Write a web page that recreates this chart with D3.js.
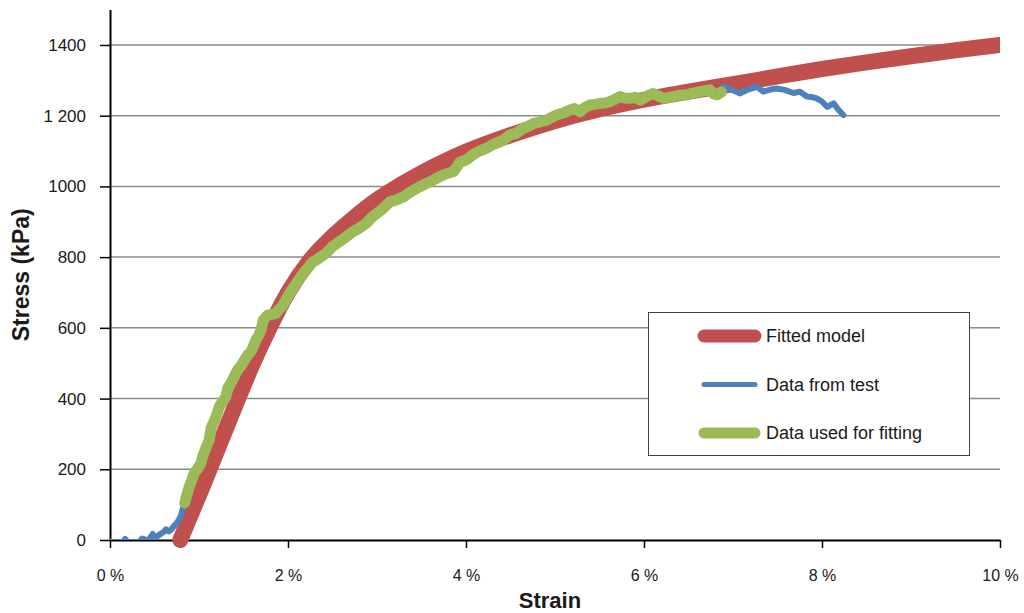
<!DOCTYPE html>
<html>
<head>
<meta charset="utf-8">
<script src="https://cdn.jsdelivr.net/npm/d3@7"></script>
<style>
  html, body { margin: 0; padding: 0; background: #ffffff; }
  svg { display: block; font-family: "Liberation Sans", Arial, sans-serif; }
</style>
</head>
<body>
<svg id="chart" width="1024" height="613"></svg>
<script>
// Axis ticks
const strainTicks = [0, 2, 4, 6, 8, 10];
const stressTicks = [0, 200, 400, 600, 800, 1000, 1200, 1400];
const stressTickLabels = ["0", "200", "400", "600", "800", "1000", "1 200", "1400"];

// Fitted model curve (strain in %, stress in kPa)
const modelStrain = [0.79, 1.04, 1.2, 1.44, 1.6, 1.8, 2.0, 2.25, 2.5, 2.75, 3.0, 3.25, 3.5, 3.75, 4.0, 4.5, 5.0, 5.5, 6.0, 6.5, 7.0, 7.5, 8.0, 8.5, 9.0, 9.5, 10.0];
const modelStress = [0, 151, 251, 400, 496, 604, 700, 792, 858, 913, 962, 1002, 1038, 1070, 1098, 1145, 1185, 1218, 1245, 1268, 1289, 1311, 1332, 1351, 1368, 1385, 1400];

// Measured test data (strain in %, stress in kPa)
const testStrain = [
  0, 0.03, 0.06, 0.1, 0.15, 0.17, 0.2, 0.28, 0.33, 0.36, 0.39, 0.42, 0.45, 0.48, 0.5, 0.53, 0.56, 0.6, 0.63, 0.66,
  0.69, 0.72, 0.75, 0.78, 0.8, 0.82, 0.84, 0.86, 0.891, 0.92, 0.947, 0.98, 1.022, 1.041, 1.08, 1.116, 1.135, 1.16,
  1.191, 1.229, 1.26, 1.303, 1.322, 1.35, 1.378, 1.41, 1.435, 1.47, 1.491, 1.52, 1.547, 1.58, 1.603, 1.64, 1.67,
  1.697, 1.723, 1.772, 1.82, 1.866, 1.9, 1.94, 2.0, 2.05, 2.1, 2.17, 2.22, 2.27, 2.32, 2.38, 2.43, 2.5, 2.58, 2.65,
  2.73, 2.8, 2.88, 2.94, 3.0, 3.07, 3.15, 3.22, 3.3, 3.38, 3.48, 3.57, 3.67, 3.76, 3.86, 3.93, 4.01, 4.08, 4.15,
  4.23, 4.3, 4.42, 4.49, 4.56, 4.64, 4.7, 4.76, 4.83, 4.91, 4.96, 5.02, 5.1, 5.17, 5.22, 5.28, 5.33, 5.39, 5.45,
  5.51, 5.56, 5.62, 5.68, 5.73, 5.78, 5.84, 5.9, 5.96, 6.03, 6.1, 6.16, 6.22, 6.28, 6.33, 6.4, 6.48, 6.55, 6.63,
  6.68, 6.74, 6.78, 6.82, 6.87, 6.89, 6.95, 7.0, 7.08, 7.15, 7.22, 7.27, 7.34, 7.42, 7.49, 7.58, 7.68, 7.75, 7.83,
  7.9, 7.94, 8.0, 8.06, 8.13, 8.18, 8.24
];
const testStress = [
  -4, -6, -8, -6, -7, 3, -6, -8, -5, 4, 2, -6, 6, 17, 6, 10, 16, 22, 30, 24,
  30, 40, 48, 60, 72, 90, 105, 125, 151, 170, 189, 200, 217, 236, 262, 283, 316, 330,
  349, 377, 390, 405, 429, 440, 453, 470, 481, 492, 500, 512, 523, 532, 542, 566, 578,
  594, 622, 636, 638, 641, 652, 662, 690, 710, 728, 754, 768, 785, 792, 803, 811, 830, 844, 857,
  872, 882, 896, 912, 924, 938, 957, 962, 971, 985, 999, 1010, 1023, 1034, 1042, 1068, 1076, 1090, 1100,
  1108, 1118, 1131, 1145, 1150, 1164, 1170, 1178, 1182, 1188, 1195, 1202, 1208, 1216, 1220, 1211, 1222, 1230, 1232,
  1235, 1236, 1240, 1247, 1254, 1250, 1249, 1252, 1244, 1255, 1263, 1256, 1249, 1252, 1254, 1258, 1259, 1264, 1268,
  1270, 1273, 1262, 1259, 1267, 1282, 1276, 1272, 1263, 1272, 1278, 1282, 1268, 1274, 1277, 1273, 1264, 1268, 1254,
  1252, 1249, 1240, 1225, 1235, 1218, 1202
];

// Strain window of the test data that was used for fitting
const fitStrainFrom = 0.84;
const fitStrainTo = 6.87;

const seriesNames = ["Fitted model", "Data from test", "Data used for fitting"];
const seriesColors = ["#C0504D", "#4F81BD", "#9BBB59"];
const seriesWidths = [16, 6, 11];
const legendWidths = [13, 5, 11];

const svg = d3.select("#chart");
const plotLeft = 110, plotRight = 1000, plotTop = 9.6, plotBottom = 540;

const x = d3.scaleLinear().domain([0, 10]).range([plotLeft, plotRight]);
const y = d3.scaleLinear().domain([0, 1500]).range([plotBottom, plotTop]);

// Horizontal gridlines
svg.append("g")
  .selectAll("line")
  .data(stressTicks.filter(d => d > 0))
  .join("line")
  .attr("x1", plotLeft).attr("x2", plotRight)
  .attr("y1", d => y(d)).attr("y2", d => y(d))
  .attr("stroke", "#8a8a8a")
  .attr("stroke-width", 1.5);

// Y axis
const yAxis = svg.append("g")
  .attr("transform", `translate(${plotLeft},0)`)
  .call(d3.axisLeft(y).tickValues(stressTicks)
    .tickFormat((d, i) => stressTickLabels[i])
    .tickSize(10).tickPadding(14).tickSizeOuter(0));
yAxis.select(".domain").attr("stroke", "#000").attr("stroke-width", 2);
yAxis.selectAll(".tick line").attr("stroke", "#000").attr("stroke-width", 1.5);
yAxis.selectAll(".tick text")
  .attr("font-family", "'Liberation Sans', Arial, sans-serif")
  .attr("font-size", 17).attr("fill", "#1a1a1a");

// X axis
const xAxis = svg.append("g")
  .attr("transform", `translate(0,${plotBottom})`)
  .call(d3.axisBottom(x).tickValues(strainTicks)
    .tickFormat(d => d + " %")
    .tickSize(8).tickPadding(22).tickSizeOuter(0));
xAxis.select(".domain").attr("stroke", "#000").attr("stroke-width", 2);
xAxis.selectAll(".tick line").attr("stroke", "#000").attr("stroke-width", 1.5);
xAxis.selectAll(".tick text")
  .attr("font-family", "'Liberation Sans', Arial, sans-serif")
  .attr("font-size", 16).attr("fill", "#1a1a1a");

// Axis titles
svg.append("text")
  .attr("x", 550).attr("y", 608)
  .attr("text-anchor", "middle")
  .attr("font-size", 22).attr("font-weight", "bold").attr("fill", "#1a1a1a")
  .text("Strain");
svg.append("text")
  .attr("transform", `translate(29,${(plotTop + plotBottom) / 2}) rotate(-90)`)
  .attr("text-anchor", "middle")
  .attr("font-size", 23).attr("font-weight", "bold").attr("fill", "#1a1a1a")
  .text("Stress (kPa)");

// Clip regions
const defs = svg.append("defs");
defs.append("clipPath").attr("id", "clip-plot")
  .append("rect").attr("x", plotLeft).attr("y", 0).attr("width", plotRight - plotLeft).attr("height", plotBottom);
defs.append("clipPath").attr("id", "clip-right")
  .append("rect").attr("x", 0).attr("y", 0).attr("width", plotRight).attr("height", 613);

// Fitted model
const modelPts = modelStrain.map((s, i) => [s, modelStress[i]]);
const smooth = d3.line().x(d => x(d[0])).y(d => y(d[1])).curve(d3.curveMonotoneX);
svg.append("path")
  .attr("clip-path", "url(#clip-right)")
  .attr("d", smooth(modelPts))
  .attr("fill", "none")
  .attr("stroke", seriesColors[0])
  .attr("stroke-width", seriesWidths[0])
  .attr("stroke-linecap", "round")
  .attr("stroke-linejoin", "round");

// Test data, and the part used for fitting
const testPts = testStrain.map((s, i) => [s, testStress[i]]);
const fitPts = testPts.filter(d => d[0] >= fitStrainFrom && d[0] <= fitStrainTo);
const lin = d3.line().x(d => x(d[0])).y(d => y(d[1])).curve(d3.curveLinear);

svg.append("path")
  .attr("clip-path", "url(#clip-plot)")
  .attr("d", lin(testPts))
  .attr("fill", "none")
  .attr("stroke", seriesColors[1])
  .attr("stroke-width", seriesWidths[1])
  .attr("stroke-linecap", "round")
  .attr("stroke-linejoin", "round");

svg.append("path")
  .attr("clip-path", "url(#clip-plot)")
  .attr("d", lin(fitPts))
  .attr("fill", "none")
  .attr("stroke", seriesColors[2])
  .attr("stroke-width", seriesWidths[2])
  .attr("stroke-linecap", "round")
  .attr("stroke-linejoin", "round");

// Legend
const legend = svg.append("g");
legend.append("rect")
  .attr("x", 648.5).attr("y", 312.5).attr("width", 321).attr("height", 143)
  .attr("fill", "#ffffff").attr("stroke", "#404040").attr("stroke-width", 1);
const item = legend.selectAll("g.item")
  .data(seriesNames)
  .join("g").attr("class", "item")
  .attr("transform", (d, i) => `translate(0,${336 + i * 48.5})`);
item.append("line")
  .attr("x1", 704).attr("x2", 755)
  .attr("y1", 0).attr("y2", 0)
  .attr("stroke", (d, i) => seriesColors[i])
  .attr("stroke-width", (d, i) => legendWidths[i])
  .attr("stroke-linecap", "round");
item.append("text")
  .attr("x", 766).attr("y", 0).attr("dy", "0.36em")
  .attr("font-size", 18).attr("fill", "#1a1a1a")
  .text(d => d);
</script>
</body>
</html>
